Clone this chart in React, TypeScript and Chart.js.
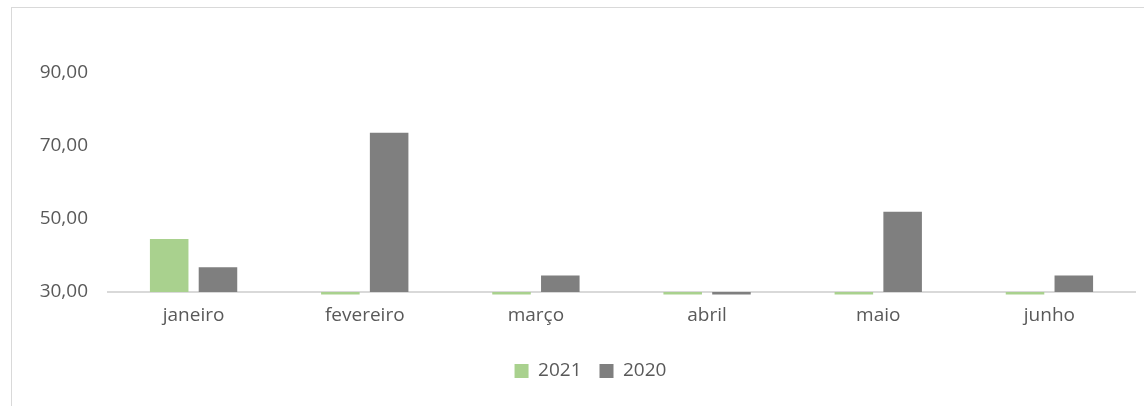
import React, { useEffect, useRef } from "react";
import { Chart, registerables } from "chart.js";

Chart.register(...registerables);

const CATEGORIES = ["janeiro", "fevereiro", "março", "abril", "maio", "junho"];
const SERIES_2021 = [44.5, 0, 0, 0, 0, 0];
const SERIES_2020 = [36.8, 73.6, 34.5, 0, 52.0, 34.5];
const Y_TICKS = [30, 50, 70, 90];
const Y_MIN = 30;
const Y_MAX = 90;

const FONT = "'Open Sans', 'Noto Sans', sans-serif";
const TEXT = "#595959";

const legendShift = {
  id: "legendShift",
  afterLayout(chart: any) {
    const l = chart.legend;
    if (l) {
      l.left += 23;
      l.right += 23;
    }
  },
};

export default function App() {
  const ref = useRef<HTMLCanvasElement | null>(null);

  useEffect(() => {
    if (!ref.current) return;
    const clip = { top: 0, left: 0, right: 0, bottom: 2.5 };
    const chart = new Chart(ref.current, {
      type: "bar",
      data: {
        labels: CATEGORIES,
        datasets: [
          {
            label: "2021",
            data: SERIES_2021,
            backgroundColor: "#A9D18E",
            categoryPercentage: 0.57,
            barPercentage: 0.79,
            base: Y_MIN,
            clip: clip as any,
          },
          {
            label: "2020",
            data: SERIES_2020,
            backgroundColor: "#7F7F7F",
            categoryPercentage: 0.57,
            barPercentage: 0.79,
            base: Y_MIN,
            clip: clip as any,
          },
        ],
      },
      plugins: [legendShift],
      options: {
        responsive: false,
        animation: false,
        layout: { padding: { top: 73, left: 0, right: 9, bottom: 15.5 } },
        plugins: {
          tooltip: { enabled: false },
          legend: {
            position: "bottom",
            labels: {
              boxWidth: 14,
              boxHeight: 14,
              padding: 18,
              color: TEXT,
              font: { family: FONT, size: 19 },
            },
          },
        },
        scales: {
          x: {
            z: 1,
            grid: { display: false, drawTicks: false },
            border: { display: true, color: "#D9D9D9", width: 2 },
            ticks: { color: TEXT, font: { family: FONT, size: 19 }, padding: 12 },
            afterFit: (s: any) => {
              s.height = 51.5;
            },
          },
          y: {
            min: Y_MIN,
            max: Y_MAX,
            grid: { display: false, drawTicks: false },
            border: { display: false },
            afterBuildTicks: (s: any) => {
              s.ticks = Y_TICKS.map((v) => ({ value: v }));
            },
            ticks: {
              color: TEXT,
              font: { family: FONT, size: 19 },
              padding: 20,
              callback: (v: any) => Number(v).toFixed(2).replace(".", ","),
            },
            afterFit: (s: any) => {
              s.width = 108;
            },
          },
        },
      },
    });
    return () => chart.destroy();
  }, []);

  return (
    <div
      style={{
        position: "fixed",
        left: 0,
        top: 0,
        width: 1144,
        height: 406,
        overflow: "hidden",
        background: "#fff",
      }}
    >
      <div
        style={{
          position: "absolute",
          left: 11,
          top: 7,
          width: 1300,
          height: 600,
          border: "1px solid #D9D9D9",
        }}
      />
      <canvas
        ref={ref}
        width={1144}
        height={406}
        style={{ position: "absolute", left: 0, top: 0, width: 1144, height: 406 }}
      />
    </div>
  );
}
